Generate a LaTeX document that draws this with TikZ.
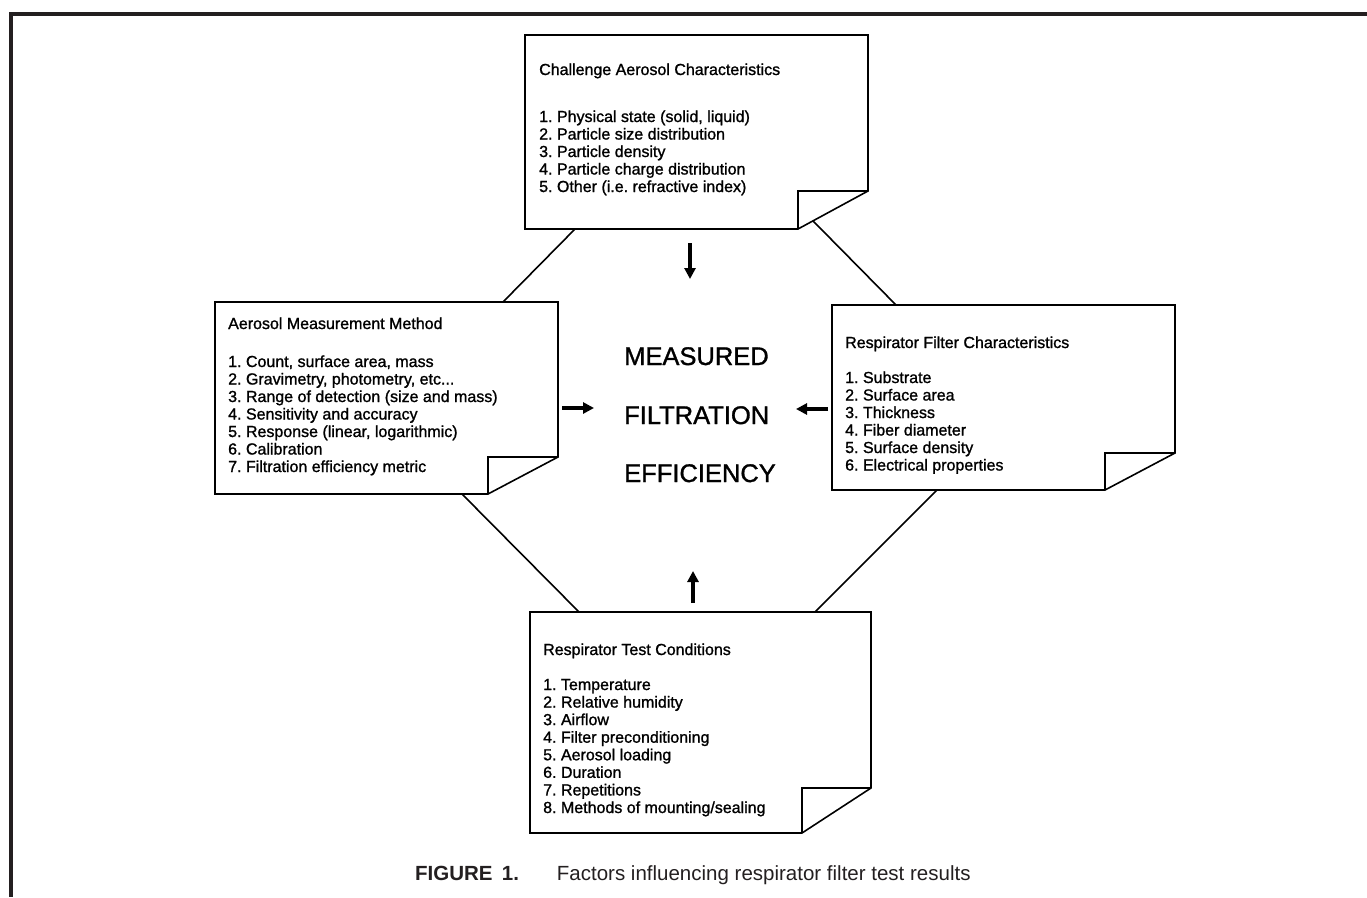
\documentclass[tikz,border=0pt]{standalone}
\usepackage{fontspec}
\setmainfont{Liberation Sans}
\newfontfamily\heavysans[FakeBold=1.2]{Liberation Sans}
\usetikzlibrary{arrows.meta,calc}
\definecolor{ink}{HTML}{231F20}
\frenchspacing
\tikzset{
  boxline/.style={draw=black, line width=1.6pt, line join=miter},
  notebox/.style={inner sep=0pt, outer sep=0pt, anchor=north west},
  boxtext/.style={anchor=base west, inner sep=0pt, font=\heavysans\fontsize{16}{17.5}\selectfont},
  bigword/.style={anchor=base west, inner sep=0pt, font=\heavysans\fontsize{25.5}{30}\selectfont},
  link/.style={draw=black, line width=1.6pt},
  arr/.style={draw=black, line width=3.6pt, -{Triangle[length=11pt,width=11pt]}},
}
\newcommand{\notefold}[3]{%
  \draw[boxline] (#1.north west) -- (#1.north east) -- ($(#1.south east)+(0,-#3)$)
     -- ($(#1.south east)+(-#2,0)$) -- (#1.south west) -- cycle;
  \draw[boxline] ($(#1.south east)+(-#2,0)$) -- ($(#1.south east)+(-#2,-#3)$)
     -- ($(#1.south east)+(0,-#3)$);
}
\begin{document}
\begin{tikzpicture}[x=1pt,y=-1pt]
\useasboundingbox (0,0) rectangle (1367,897);
% frame
\draw[ink, line width=4pt] (1367,14) -- (11,14) -- (11,897);

% boxes
\node[notebox, minimum width=343pt, minimum height=194pt] (cac) at (525,35) {};
\node[notebox, minimum width=343pt, minimum height=192pt] (amm) at (215,302) {};
\node[notebox, minimum width=343pt, minimum height=185pt] (rfc) at (832,305) {};
\node[notebox, minimum width=341pt, minimum height=221pt] (rtc) at (530,612) {};
\notefold{cac}{70}{38}
\notefold{amm}{70}{37}
\notefold{rfc}{70}{37}
\notefold{rtc}{69}{45}

% top box text
\node[boxtext] (cac-t) at (539,75) {Challenge Aerosol Characteristics};
\foreach \txt [count=\i] in {{1. Physical state (solid, liquid)},{2. Particle size distribution},{3. Particle density},{4. Particle charge distribution},{5. Other (i.e. refractive index)}}
  \node[boxtext] (cac-\i) at (539,{122+17.5*(\i-1)}) {\txt};

% left box text
\node[boxtext] (amm-t) at (228,329) {Aerosol Measurement Method};
\foreach \txt [count=\i] in {{1. Count, surface area, mass},{2. Gravimetry, photometry, etc.{}.{}.},{3. Range of detection (size and mass)},{4. Sensitivity and accuracy},{5. Response (linear, logarithmic)},{6. Calibration},{7. Filtration efficiency metric}}
  \node[boxtext] (amm-\i) at (228,{367+17.5*(\i-1)}) {\txt};

% right box text
\node[boxtext] (rfc-t) at (845,348) {Respirator Filter Characteristics};
\foreach \txt [count=\i] in {{1. Substrate},{2. Surface area},{3. Thickness},{4. Fiber diameter},{5. Surface density},{6. Electrical properties}}
  \node[boxtext] (rfc-\i) at (845,{383+17.5*(\i-1)}) {\txt};

% bottom box text
\node[boxtext] (rtc-t) at (543,655) {Respirator Test Conditions};
\foreach \txt [count=\i] in {{1. Temperature},{2. Relative humidity},{3. Airflow},{4. Filter preconditioning},{5. Aerosol loading},{6. Duration},{7. Repetitions},{8. Methods of mounting/sealing}}
  \node[boxtext] (rtc-\i) at (543,{690+17.57*(\i-1)}) {\txt};

% centre words
\node[bigword] (w1) at (624,365) {MEASURED};
\node[bigword] (w2) at (624,424) {FILTRATION};
\node[bigword] (w3) at (624,482) {EFFICIENCY};

% connecting lines
\draw[link] ($(cac.south west)+(50,0)$) -- ($(amm.north west)+(288,0)$);
\draw[link] ($($(cac.south east)+(0,-38)$)!0.786!($(cac.south east)+(-70,0)$)$) -- ($(rfc.north west)+(64,0)$);
\draw[link] ($(amm.south west)+(247,0)$) -- ($(rtc.north west)+(49,0)$);
\draw[link] ($(rfc.south west)+(105,0)$) -- ($(rtc.north west)+(285,0)$);

% arrows
\coordinate (aT1) at (690,243); \coordinate (aT2) at (690,279);
\coordinate (aL1) at (562,408); \coordinate (aL2) at (594,408);
\coordinate (aR1) at (828,409); \coordinate (aR2) at (796,409);
\coordinate (aB1) at (693,603); \coordinate (aB2) at (693,571);
\draw[arr] (aT1) -- (aT2);
\draw[arr] (aL1) -- (aL2);
\draw[arr] (aR1) -- (aR2);
\draw[arr] (aB1) -- (aB2);

% caption
\node[anchor=base west, inner sep=0pt, text=ink, font=\fontsize{20.5}{24}\selectfont] (cap) at (415,880)
  {\textbf{FIGURE\hspace{0.45em}1.}\hspace{38pt}Factors influencing respirator filter test results};
\end{tikzpicture}
\end{document}
